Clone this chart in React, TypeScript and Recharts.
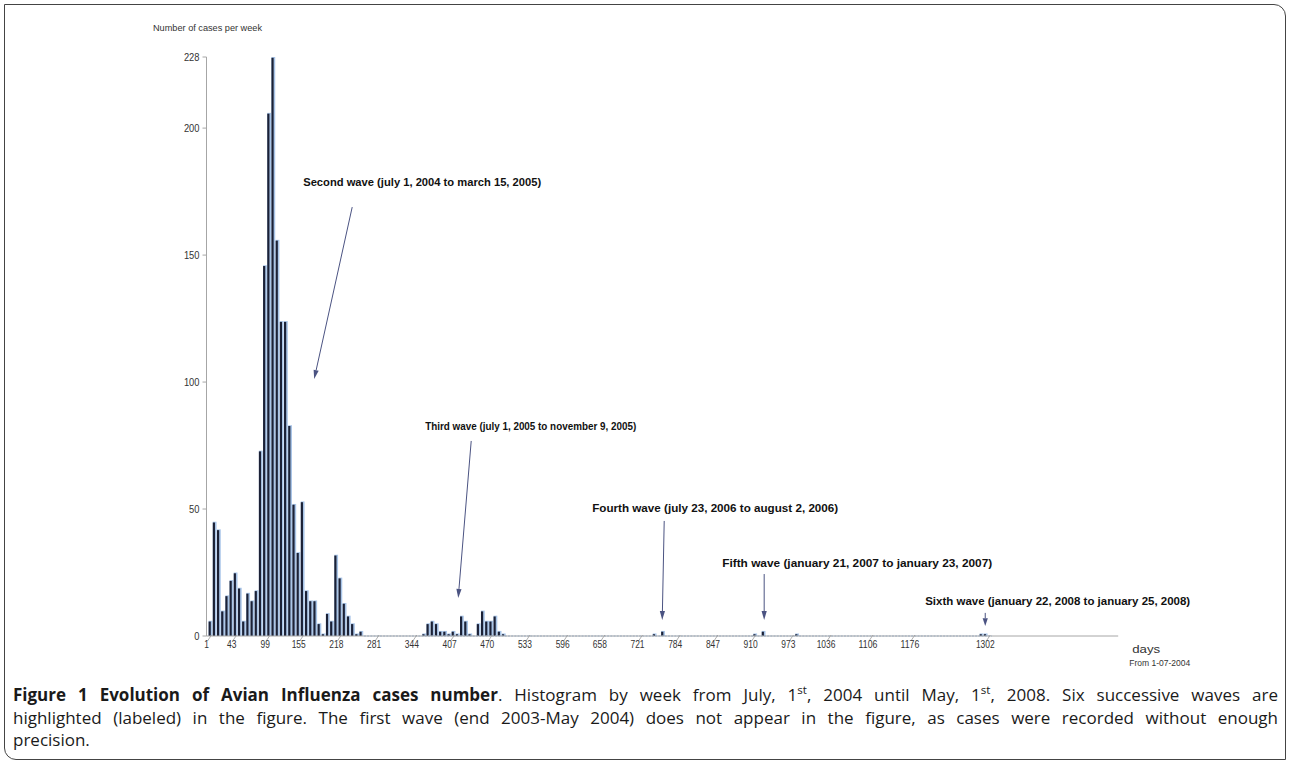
import React from 'react';
import { BarChart, Bar, XAxis, YAxis, ReferenceLine, ReferenceDot } from 'recharts';

// ---- data ----
const FIRST_WEEK_DAY = 8;
const DAYS_PER_WEEK = 7;
const WEEK_COUNT = 187;

const secondWaveStartWeek = 0;
const secondWaveCases = [6, 45, 42, 10, 16, 22, 25, 19, 6, 17, 14, 18, 73, 146, 206, 228, 156, 124, 124, 83, 52, 33, 53, 18, 14, 14, 5, 1, 9, 6, 32, 23, 13, 8, 5, 1, 2];
const thirdWaveStartWeek = 51;
const thirdWaveCases = [1, 5, 6, 5, 2, 2, 1, 2, 1, 8, 6, 1, 0, 5, 10, 6, 6, 8, 2, 1];
const fourthWaveStartWeek = 106;
const fourthWaveCases = [1, 0, 2];
const fifthWaveStartWeek = 130;
const fifthWaveCases = [1, 0, 2, 0, 0, 0, 0, 0, 0, 0, 1];
const sixthWaveStartWeek = 184;
const sixthWaveCases = [1, 1];

const xTickDays = [1, 43, 99, 155, 218, 281, 344, 407, 470, 533, 596, 658, 721, 784, 847, 910, 973, 1036, 1106, 1176, 1302];
const yTickValues = [0, 50, 100, 150, 200, 228];

const waveLabels = [
  'Second wave (july 1, 2004 to march 15, 2005)',
  'Third wave (july 1, 2005 to november 9, 2005)',
  'Fourth wave (july 23, 2006 to august 2, 2006)',
  'Fifth wave (january 21, 2007 to january 23, 2007)',
  'Sixth wave (january 22, 2008 to january 25, 2008)',
];
const labelDay = [162.5, 366.3, 645.3, 862.5, 1201.6];
const labelCases = [177.2, 81.1, 48.8, 27.2, 12.2];
const arrowFromDay = [244.4, 443.2, 765.6, 932.6, 1301.9];
const arrowFromCases = [168.9, 76.8, 45.3, 24.4, 9.1];
const arrowToDay = [180.9, 421.5, 762.3, 932.6, 1301.9];
const arrowToCases = [101.2, 15.0, 6.3, 6.3, 3.9];

// ---- table ----
const waves = [
  { start: secondWaveStartWeek, cases: secondWaveCases },
  { start: thirdWaveStartWeek, cases: thirdWaveCases },
  { start: fourthWaveStartWeek, cases: fourthWaveCases },
  { start: fifthWaveStartWeek, cases: fifthWaveCases },
  { start: sixthWaveStartWeek, cases: sixthWaveCases },
];
const weekTable = Array.from({ length: WEEK_COUNT }, (_, i) => ({ day: FIRST_WEEK_DAY + DAYS_PER_WEEK * i, cases: 0 }));
waves.forEach((w) => w.cases.forEach((v, k) => { weekTable[w.start + k].cases = v; }));
const lastSecondWaveDay = weekTable[secondWaveStartWeek + secondWaveCases.length - 1].day;
const lastWeekDay = weekTable[WEEK_COUNT - 1].day;

// ---- styles ----
const labelWidths = [238, 211, 246, 270, 265];
const ARROW = '#4b5382';
const AXIS = '#a6a6a6';
const TEXT = '#333';
const FONT = '"Liberation Sans", Arial, sans-serif';

const BarShape = (p: any) => {
  const { x, y, width, height } = p;
  if (!height || height <= 0) return null;
  return (
    <g>
      <rect x={x} y={y} width={width} height={height} fill="#a9c5e8" />
      <rect x={x} y={y + 0.8} width={width * 0.58} height={Math.max(height - 0.8, 0.5)} fill="#1b2136" />
    </g>
  );
};

const XTick = (p: any) => {
  const { x, y, payload } = p;
  const s = String(payload.value);
  return (
    <g>
      <line x1={x + 1} y1={y + 5} x2={x + 5} y2={y - 1} stroke="#9a9a9a" strokeWidth={0.8} />
      <text x={x} y={y + 12} textAnchor="middle" fontFamily={FONT} fontSize={11} fill={TEXT}
        textLength={s.length * 4.7} lengthAdjust="spacingAndGlyphs">{s}</text>
    </g>
  );
};

const YTick = (p: any) => {
  const { x, y, payload } = p;
  const s = String(payload.value);
  return (
    <text x={x} y={y + 3.5} textAnchor="end" fontFamily={FONT} fontSize={10.5} fill={TEXT}
      textLength={s.length * 5.2} lengthAdjust="spacingAndGlyphs">{s}</text>
  );
};

const ArrowShape = (p: any) => {
  const { x1, y1, x2, y2 } = p;
  const dx = x2 - x1, dy = y2 - y1;
  const len = Math.hypot(dx, dy) || 1;
  const ux = dx / len, uy = dy / len;
  const head = Math.min(9, len * 0.6), half = 2.6;
  const bx = x2 - ux * head, by = y2 - uy * head;
  const px = -uy, py = ux;
  return (
    <g>
      <line x1={x1} y1={y1} x2={bx} y2={by} stroke={ARROW} strokeWidth={1} />
      <polygon points={`${x2},${y2} ${bx + px * half},${by + py * half} ${bx - px * half},${by - py * half}`} fill={ARROW} />
    </g>
  );
};

const makeLabelShape = (text: string, width: number) => (p: any) => (
  <text x={p.cx} y={p.cy} fontFamily={FONT} fontSize={11} fontWeight="bold" fill="#111"
    textLength={width} lengthAdjust="spacingAndGlyphs">{text}</text>
);

const XAxisNote = (p: any) => {
  const vb = p.viewBox || { x: 0, y: 0, width: 0 };
  const right = vb.x + vb.width;
  return (
    <g>
      <text x={right + 14} y={vb.y + 17} fontFamily={FONT} fontSize={11} fill={TEXT} textLength={28} lengthAdjust="spacingAndGlyphs">days</text>
      <text x={right + 11} y={vb.y + 30} fontFamily={FONT} fontSize={8.5} fill={TEXT} textLength={61} lengthAdjust="spacingAndGlyphs">From 1-07-2004</text>
    </g>
  );
};

const YAxisTitle = (p: any) => {
  const vb = p.viewBox || { x: 0, y: 0 };
  return (
    <text x={vb.x - 13.5} y={vb.y - 26} fontFamily={FONT} fontSize={9.5} fill={TEXT} textLength={109} lengthAdjust="spacingAndGlyphs">Number of cases per week</text>
  );
};

const supStyle = { fontSize: '0.68em', lineHeight: 0 };

export default function App() {
  return (
    <div style={{ position: 'absolute', left: 0, top: 0, width: 1290, height: 763, background: '#fff', overflow: 'hidden' }}>
      <div style={{ position: 'absolute', left: 4, top: 4, width: 1280, height: 754, border: '1px solid #444', borderTopRightRadius: 12, borderBottomLeftRadius: 12 }} />
      <div style={{ position: 'absolute', left: 0, top: 0 }}>
        <BarChart width={1290} height={680} data={weekTable} margin={{ top: 57, right: 171.8, bottom: 14, left: 166.5 }} barCategoryGap={0}>
          <XAxis dataKey="day" type="number" domain={[1, 1524]} ticks={xTickDays} interval={0}
            tick={<XTick />} tickLine={false} tickSize={0} tickMargin={0} height={30}
            axisLine={{ stroke: AXIS, strokeWidth: 1 }} label={<XAxisNote />} allowDataOverflow />
          <YAxis type="number" domain={[0, 228]} ticks={yTickValues} interval={0} width={40}
            tick={<YTick />} tickSize={4} tickMargin={3} tickLine={{ stroke: AXIS }}
            axisLine={{ stroke: AXIS, strokeWidth: 1 }} label={<YAxisTitle />} allowDataOverflow />
          <Bar dataKey="cases" barSize={4.2} shape={<BarShape />} isAnimationActive={false} />
          <ReferenceLine segment={[{ x: lastSecondWaveDay + 4, y: 0 }, { x: lastWeekDay + 3, y: 0 }]}
            stroke="#8fb1da" strokeWidth={1.2} strokeDasharray="2 1.2" ifOverflow="visible" />
          {waveLabels.map((t, i) => (
            <ReferenceLine key={'a' + i} segment={[{ x: arrowFromDay[i], y: arrowFromCases[i] }, { x: arrowToDay[i], y: arrowToCases[i] }]}
              shape={ArrowShape} ifOverflow="visible" />
          ))}
          {waveLabels.map((t, i) => (
            <ReferenceDot key={'l' + i} x={labelDay[i]} y={labelCases[i]} r={0}
              shape={makeLabelShape(t, labelWidths[i])} ifOverflow="visible" />
          ))}
        </BarChart>
      </div>
      <div style={{ position: 'absolute', left: 13, top: 684, width: 1265, fontFamily: '"Open Sans", sans-serif', fontSize: 17, lineHeight: '22.5px', color: '#1a1a1a' }}>
        <div style={{ textAlign: 'justify', textAlignLast: 'justify', whiteSpace: 'nowrap' as any }}>
          <b>Figure 1 Evolution of Avian Influenza cases number</b>. Histogram by week from July, 1<sup style={supStyle}>st</sup>, 2004 until May, 1<sup style={supStyle}>st</sup>, 2008. Six successive waves are
        </div>
        <div style={{ textAlign: 'justify', textAlignLast: 'justify' }}>
          highlighted (labeled) in the figure. The first wave (end 2003-May 2004) does not appear in the figure, as cases were recorded without enough
        </div>
        <div>precision.</div>
      </div>
    </div>
  );
}
